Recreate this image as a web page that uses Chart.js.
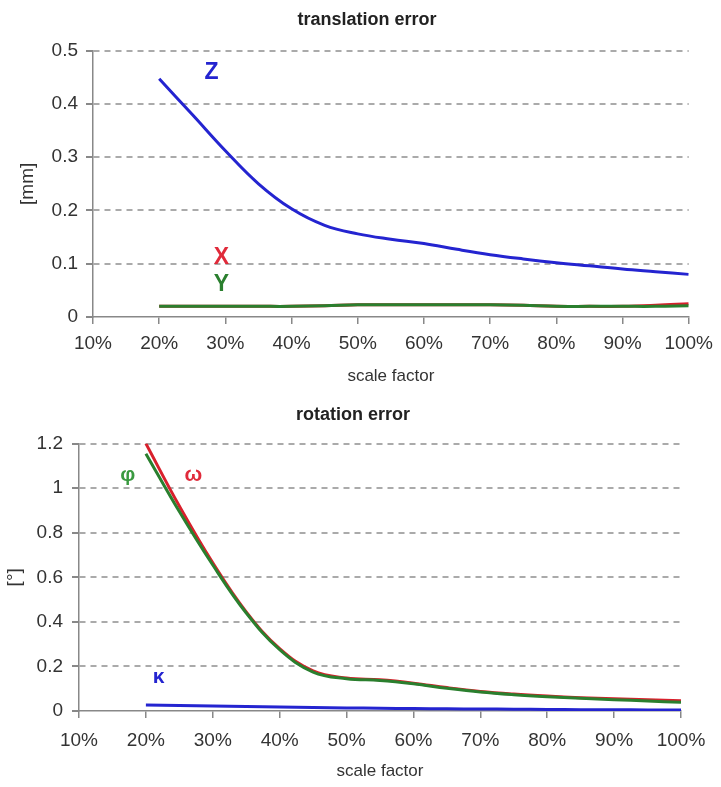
<!DOCTYPE html>
<html>
<head>
<meta charset="utf-8">
<script src="https://cdn.jsdelivr.net/npm/chart.js@4"></script>
<style>
  html, body { margin: 0; padding: 0; background: #fff; }
  #wrap { position: relative; width: 721px; height: 787px; }
  canvas { position: absolute; left: 0; }
  #trans { top: 0; }
  #rot { top: 390px; }
</style>
</head>
<body>
<div id="wrap">
  <canvas id="trans" width="721" height="390"></canvas>
  <canvas id="rot" width="721" height="397"></canvas>
</div>
<script>
// scale factor in percent (x positions of the samples)
const scaleFactor = [20, 25, 30, 35, 40, 45, 50, 55, 60, 65, 70, 75, 80, 85, 90, 95, 100];
const xTicks = [10, 20, 30, 40, 50, 60, 70, 80, 90, 100];

// translation error [mm]
const transX = [0.020, 0.020, 0.020, 0.020, 0.020, 0.021, 0.023, 0.023, 0.023, 0.023, 0.023, 0.022, 0.020, 0.020, 0.020, 0.022, 0.025];
const transY = [0.020, 0.020, 0.020, 0.020, 0.020, 0.021, 0.023, 0.023, 0.023, 0.023, 0.023, 0.022, 0.020, 0.020, 0.020, 0.020, 0.021];
const transZ = [0.447, 0.380, 0.312, 0.250, 0.203, 0.172, 0.156, 0.146, 0.138, 0.127, 0.117, 0.109, 0.102, 0.096, 0.090, 0.085, 0.080];
const transTicks = [0, 0.1, 0.2, 0.3, 0.4, 0.5];

// rotation error [°]
const rotOmega = [1.200, 0.920, 0.665, 0.445, 0.280, 0.180, 0.148, 0.140, 0.125, 0.105, 0.088, 0.076, 0.067, 0.060, 0.055, 0.050, 0.046];
const rotPhi   = [1.155, 0.895, 0.655, 0.440, 0.275, 0.175, 0.145, 0.137, 0.122, 0.102, 0.085, 0.073, 0.064, 0.057, 0.051, 0.045, 0.039];
const rotKappa = [0.027, 0.025, 0.022, 0.020, 0.018, 0.016, 0.014, 0.012, 0.011, 0.010, 0.009, 0.008, 0.007, 0.006, 0.006, 0.005, 0.005];
const rotTicks = [0, 0.2, 0.4, 0.6, 0.8, 1, 1.2];

const FONT = "'Liberation Sans', Arial, Helvetica, sans-serif";
const BLUE = '#2424d0', RED = '#d8202c', GREEN = '#2a7f2e';

function pts(values){
  return values.map((v, i) => ({ x: scaleFactor[i], y: v }));
}

function line(label, values, color){
  return {
    label, data: pts(values),
    borderColor: color, borderWidth: 3,
    pointRadius: 0, fill: false,
    tension: 0.4
  };
}

// draws the curve names (Z, X, Y, φ ...) at data coordinates
const curveNames = {
  id: 'curveNames',
  afterDatasetsDraw(chart, args, opts){
    const {ctx, scales: {x, y}} = chart;
    ctx.save();
    ctx.textAlign = 'center';
    ctx.textBaseline = 'middle';
    (opts.items || []).forEach(it => {
      ctx.font = it.font;
      ctx.fillStyle = it.color;
      ctx.fillText(it.text, x.getPixelForValue(it.x), y.getPixelForValue(it.y));
    });
    ctx.restore();
  }
};

function makeChart(id, g){
  return new Chart(document.getElementById(id), {
    type: 'line',
    data: { datasets: g.datasets },
    plugins: [curveNames],
    options: {
      responsive: false,
      animation: false,
      events: [],
      layout: { padding: { left: g.padLeft, right: g.padRight, top: 0, bottom: 0 } },
      plugins: {
        legend: { display: false },
        tooltip: { enabled: false },
        title: {
          display: true, text: g.title, color: '#222',
          font: { family: FONT, size: 18, weight: 'bold' },
          padding: { top: g.titleTop, bottom: g.titleBottom }
        },
        curveNames: { items: g.names }
      },
      scales: {
        x: {
          type: 'linear', min: 10, max: 100,
          afterBuildTicks: s => { s.ticks = xTicks.map(v => ({ value: v })); },
          afterFit: s => { s.height = g.xHeight; },
          ticks: {
            color: '#333', padding: g.xTickPad, maxRotation: 0,
            font: { family: FONT, size: 19 },
            callback: v => v + '%'
          },
          grid: { drawOnChartArea: false, drawTicks: true, tickLength: 7, color: '#888', lineWidth: 1.5 },
          border: { display: true, color: '#888', width: 1.5 },
          title: {
            display: true, text: 'scale factor', color: '#333',
            font: { family: FONT, size: 17 },
            padding: { top: 0, bottom: g.xTitlePad }
          }
        },
        y: {
          type: 'linear', min: 0, max: g.yMax,
          afterBuildTicks: s => { s.ticks = g.yTicks.map(v => ({ value: v })); },
          afterFit: s => { s.width = g.yWidth; },
          ticks: {
            color: '#333', padding: g.yTickPad,
            font: { family: FONT, size: 19 },
            callback: v => String(Number(v.toFixed(1)))
          },
          grid: {
            color: c => (c.tick && c.tick.value === 0) ? 'rgba(0,0,0,0)' : '#aaaaaa',
            tickColor: '#888',
            lineWidth: 2, tickLength: 7
          },
          border: { display: true, color: '#888', width: 1.5, dash: [6, 5] },
          title: {
            display: true, text: g.yTitle, color: '#333',
            font: { family: FONT, size: 19 },
            padding: { top: g.yTitlePad, bottom: 0 }
          }
        }
      }
    }
  });
}

makeChart('trans', {
  title: 'translation error',
  titleTop: 9, titleBottom: 20,
  padLeft: 40, padRight: 27,
  xHeight: 73, xTickPad: 8, xTitlePad: 3,
  yWidth: 53, yTickPad: 8, yTitlePad: -23.4,
  yMax: 0.5, yTicks: transTicks, yTitle: '[mm]',
  datasets: [
    line('Y', transY, GREEN),
    line('X', transX, RED),
    line('Z', transZ, BLUE)
  ],
  names: [
    { text: 'Z', x: 27.9, y: 0.459, color: BLUE, font: "bold 23px " + FONT },
    { text: 'X', x: 29.4, y: 0.112, color: '#e02a3a', font: "bold 23px " + FONT },
    { text: 'Y', x: 29.4, y: 0.060, color: GREEN, font: "bold 23px " + FONT }
  ]
});

makeChart('rot', {
  title: 'rotation error',
  titleTop: 14, titleBottom: 18,
  padLeft: 25, padRight: 40,
  xHeight: 76, xTickPad: 11, xTitlePad: 5,
  yWidth: 54, yTickPad: 9, yTitlePad: -21.4,
  yMax: 1.2, yTicks: rotTicks, yTitle: '[°]',
  datasets: [
    line('φ', rotPhi, GREEN),
    line('ω', rotOmega, RED),
    line('κ', rotKappa, BLUE)
  ],
  names: [
    { text: 'φ', x: 17.3, y: 1.06, color: '#3a9a40', font: "bold 21px " + FONT },
    { text: 'ω', x: 27.1, y: 1.06, color: '#e02a3a', font: "bold 21px " + FONT },
    { text: 'κ', x: 21.9, y: 0.152, color: BLUE, font: "bold 21px " + FONT }
  ]
});
</script>
</body>
</html>
